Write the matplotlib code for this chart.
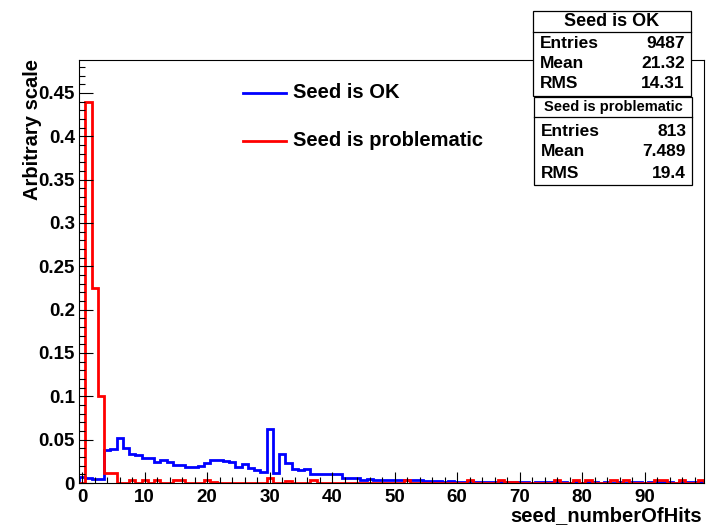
import matplotlib
matplotlib.use("Agg")
import matplotlib.pyplot as plt
import numpy as np
from matplotlib.patches import Rectangle
from matplotlib.lines import Line2D
from matplotlib.ticker import MultipleLocator

plt.rcParams["font.family"] = ["Liberation Sans", "DejaVu Sans"]
plt.rcParams["font.weight"] = "bold"

# bin contents, bins centred on 0..99 (unit width)
seed_ok = [
    0.007, 0.006, 0.005, 0.005, 0.038, 0.039, 0.052, 0.040, 0.034, 0.032,
    0.029, 0.029, 0.024, 0.027, 0.024, 0.021, 0.021, 0.019, 0.018, 0.020,
    0.023, 0.026, 0.027, 0.025, 0.024, 0.019, 0.022, 0.017, 0.015, 0.013,
    0.062, 0.012, 0.034, 0.023, 0.016, 0.015, 0.016, 0.010, 0.010, 0.010,
    0.010, 0.010, 0.006, 0.006, 0.006, 0.004, 0.005, 0.004, 0.004, 0.004,
    0.003, 0.003, 0.003, 0.003, 0.003, 0.002, 0.002, 0.002, 0.001, 0.002,
    0.001, 0.001, 0.002, 0.001, 0.001, 0.001, 0.001, 0.001, 0.001, 0.001,
    0.001, 0.001, 0.000, 0.001, 0.001, 0.001, 0.001, 0.001, 0.000, 0.001,
    0.000, 0.001, 0.001, 0.000, 0.001, 0.000, 0.001, 0.000, 0.001, 0.001,
    0.000, 0.001, 0.001, 0.001, 0.001, 0.000, 0.001, 0.001, 0.001, 0.001,
]
seed_bad = [
    0.000, 0.440, 0.225, 0.100, 0.011, 0.012, 0.000, 0.000, 0.003, 0.000,
    0.003, 0.000, 0.003, 0.000, 0.000, 0.003, 0.003, 0.000, 0.000, 0.000,
    0.003, 0.001, 0.000, 0.000, 0.000, 0.000, 0.000, 0.000, 0.000, 0.000,
    0.006, 0.000, 0.000, 0.002, 0.000, 0.000, 0.000, 0.004, 0.000, 0.000,
    0.000, 0.000, 0.000, 0.000, 0.000, 0.000, 0.000, 0.000, 0.000, 0.000,
    0.000, 0.000, 0.003, 0.000, 0.000, 0.000, 0.000, 0.000, 0.000, 0.000,
    0.000, 0.000, 0.003, 0.000, 0.000, 0.000, 0.000, 0.003, 0.001, 0.001,
    0.000, 0.000, 0.000, 0.000, 0.000, 0.000, 0.003, 0.000, 0.000, 0.003,
    0.000, 0.003, 0.000, 0.000, 0.000, 0.003, 0.000, 0.003, 0.000, 0.000,
    0.000, 0.000, 0.003, 0.003, 0.000, 0.000, 0.003, 0.000, 0.000, 0.003,
]
bin_edges = np.arange(-0.5, 100.5, 1.0)

stats_ok = [("Entries", "9487"), ("Mean", "21.32"), ("RMS", "14.31")]
stats_bad = [("Entries", "813"), ("Mean", "7.489"), ("RMS", "19.4")]

W, H = 716, 527


def fx(px):
    return px / W


def fy(py):
    return 1 - py / H


fig = plt.figure(figsize=(W / 100, H / 100), dpi=100)
ax = fig.add_axes([fx(79), fy(483), (704 - 79) / W, (483 - 60) / H])

ax.stairs(seed_ok, bin_edges, baseline=0, color="#0000ff", lw=2.0)
ax.stairs(seed_bad, bin_edges, baseline=0, color="#ff0000", lw=2.0)

ax.set_xlim(-0.5, 99.5)
ax.set_ylim(0, 0.488)
ax.xaxis.set_major_locator(MultipleLocator(10))
ax.xaxis.set_minor_locator(MultipleLocator(2))
ax.yaxis.set_major_locator(MultipleLocator(0.05))
ax.yaxis.set_minor_locator(MultipleLocator(0.01))
ax.set_yticks(np.arange(0, 0.46, 0.05))
ax.set_yticklabels(["0"] + ["%g" % v for v in np.arange(0.05, 0.46, 0.05)])
ax.set_xticks(np.arange(0, 91, 10))
ax.tick_params(axis="both", which="both", direction="in", width=0.8,
               labelsize=13.5, top=False, right=False)
ax.tick_params(axis="x", which="major", length=8, pad=4)
ax.tick_params(axis="x", which="minor", length=4)
ax.tick_params(axis="y", which="major", length=10, pad=3)
ax.tick_params(axis="y", which="minor", length=4)
for s in ax.spines.values():
    s.set_linewidth(0.8)

fig.text(fx(32), fy(59), "Arbitrary scale", rotation=90, ha="center",
         va="top", fontsize=14.5, fontweight="bold")
fig.text(fx(702), fy(525), "seed_numberOfHits", ha="right", va="bottom",
         fontsize=14.5, fontweight="bold")

# legend
for y, col, lab in [(93, "#0000ff", "Seed is OK"), (141, "#ff0000", "Seed is problematic")]:
    fig.add_artist(Line2D([fx(243), fx(286)], [fy(y), fy(y)], color=col, lw=2.0))
    fig.text(fx(293), fy(y), lab, ha="left", va="center", fontsize=14.5,
             fontweight="bold")


def stats_box(x0, x1, y0, y1, yline, title, tsize, rows, row_y):
    fig.add_artist(Rectangle((fx(x0), fy(y1)), fx(x1) - fx(x0), fy(y0) - fy(y1),
                             transform=fig.transFigure, facecolor="white",
                             edgecolor="black", lw=0.9, zorder=5))
    fig.add_artist(Line2D([fx(x0), fx(x1)], [fy(yline), fy(yline)], color="black",
                          lw=0.9, zorder=6))
    fig.text(fx((x0 + x1) / 2), fy((y0 + yline) / 2), title, ha="center",
             va="center", fontsize=tsize, fontweight="bold", zorder=7)
    for (name, val), ry in zip(rows, row_y):
        fig.text(fx(x0 + 7), fy(ry), name, ha="left", va="center",
                 fontsize=12.5, fontweight="bold", zorder=7)
        fig.text(fx(x1 - 6), fy(ry), val, ha="right", va="center",
                 fontsize=12.5, fontweight="bold", zorder=7)


stats_box(533, 691, 11, 96, 32, "Seed is OK", 13, stats_ok, [43, 63, 84])
stats_box(534, 692, 97, 185, 117, "Seed is problematic", 10.5, stats_bad,
          [132, 152, 173])

fig.savefig("out.png", dpi=100)
